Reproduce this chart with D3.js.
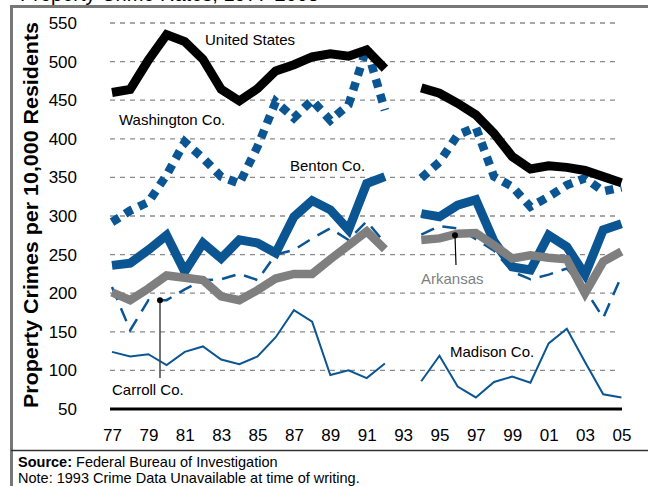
<!DOCTYPE html>
<html>
<head>
<meta charset="utf-8">
<script src="https://cdn.jsdelivr.net/npm/d3@7"></script>
<style>
  body { margin: 0; background: #fff; }
  svg { display: block; font-family: "Liberation Sans", Arial, Helvetica, sans-serif; }
</style>
</head>
<body>
<div id="chart"></div>
<script>
// years on the x axis, 1993 has no data
var years = [1977, 1978, 1979, 1980, 1981, 1982, 1983, 1984, 1985, 1986, 1987, 1988, 1989, 1990,
    1991, 1992, 1993, 1994, 1995, 1996, 1997, 1998, 1999, 2000, 2001, 2002, 2003, 2004, 2005];
var xTicks = [1977, 1979, 1981, 1983, 1985, 1987, 1989, 1991, 1993, 1995, 1997, 1999, 2001, 2003, 2005];
var yTicks = [50, 100, 150, 200, 250, 300, 350, 400, 450, 500, 550];

var unitedStates = [460, 464, 502, 535, 526, 503, 464, 449, 465, 488, 496, 506, 510, 507, 515, 491,
    null, 466, 459, 446, 431, 407, 377, 361, 365, 363, 359, 351, 343];
var washington = [292, 307, 318, 353, 396, 375, 351, 342, 390, 448, 427, 450, 424, 444, 518, 437,
    null, 349, 370, 405, 415, 351, 338, 312, 325, 340, 349, 332, 337];
var benton = [236, 239, 256, 275, 228, 265, 245, 269, 265, 252, 299, 320, 308, 282, 342, 351,
    null, 303, 299, 314, 321, 267, 234, 230, 275, 260, 224, 282, 290];
var arkansas = [201, 191, 206, 223, 220, 217, 196, 191, 204, 219, 225, 225, 244, 262, 280, 257,
    null, 269, 271, 277, 278, 262, 245, 249, 246, 244, 200, 241, 254];
var carroll = [208, 152, 191, 191, 205, 217, 218, 225, 217, 250, 256, 271, 284, 269, 293, 265,
    null, 276, 287, 284, 270, 255, 228, 218, 224, 232, 205, 168, 222];
var madison = [124, 118, 121, 107, 124, 131, 114, 108, 118, 143, 178, 163, 94, 100, 90, 109,
    null, 86, 119, 79, 65, 85, 92, 84, 135, 154, 111, 69, 65];

var width = 648, height = 486;
var blue = "#0a5592", gray = "#7f7f7f";

var svg = d3.select("#chart").append("svg")
    .attr("width", width)
    .attr("height", height);

var x = d3.scaleLinear().domain([1977, 2005]).range([112, 621.4]);
var y = d3.scaleLinear().domain([50, 550]).range([409, 23]);

// frame
svg.append("path")
    .attr("d", "M" + (width + 5) + ",6.5H11.5V" + (height + 5))
    .attr("fill", "none")
    .attr("stroke", "#777")
    .attr("stroke-width", 3);
svg.append("line")
    .attr("x1", 11).attr("x2", width)
    .attr("y1", 450.5).attr("y2", 450.5)
    .attr("stroke", "#333")
    .attr("stroke-width", 1.5);

// title, mostly cut off by the top edge
svg.append("text")
    .attr("x", 20).attr("y", 1)
    .attr("font-size", 20)
    .text("Property Crime Rates, 1977-2005");

// grid
svg.append("g")
    .selectAll("line")
    .data(yTicks.filter(function (d) { return d > 50; }))
    .enter().append("line")
    .attr("x1", 110).attr("x2", 615)
    .attr("y1", function (d) { return y(d); })
    .attr("y2", function (d) { return y(d); })
    .attr("stroke", "#8a8a8a")
    .attr("stroke-width", 1.3)
    .attr("stroke-dasharray", "5,5");

// axes
var yAxis = svg.append("g")
    .attr("transform", "translate(112,0)")
    .call(d3.axisLeft(y).tickValues(yTicks).tickSize(0).tickPadding(35));
yAxis.select(".domain").remove();
yAxis.selectAll("text").attr("font-size", 17).attr("fill", "#000").attr("font-family", null);

var xAxis = svg.append("g")
    .attr("transform", "translate(0,429)")
    .call(d3.axisBottom(x).tickValues(xTicks).tickSize(0).tickPadding(0)
        .tickFormat(function (d) { return String(d).slice(2); }));
xAxis.select(".domain").remove();
xAxis.selectAll("text").attr("font-size", 17).attr("fill", "#000").attr("font-family", null);

svg.append("text")
    .attr("transform", "translate(38,215)rotate(-90)")
    .attr("text-anchor", "middle")
    .attr("font-size", 20)
    .attr("font-weight", "bold")
    .attr("textLength", 386)
    .attr("lengthAdjust", "spacingAndGlyphs")
    .text("Property Crimes per 10,000 Residents");

// baseline
svg.append("line")
    .attr("x1", 110).attr("x2", 622)
    .attr("y1", y(50)).attr("y2", y(50))
    .attr("stroke", "#000")
    .attr("stroke-width", 3);

// series
var line = d3.line()
    .defined(function (d) { return d[1] != null; })
    .x(function (d) { return x(d[0]); })
    .y(function (d) { return y(d[1]); });

function drawSeries(values, color, widthPx, dash) {
    svg.append("path")
        .datum(years.map(function (yr, i) { return [yr, values[i]]; }))
        .attr("d", line)
        .attr("fill", "none")
        .attr("stroke", color)
        .attr("stroke-width", widthPx)
        .attr("stroke-dasharray", dash)
        .attr("stroke-linecap", "butt")
        .attr("stroke-linejoin", "miter");
}

drawSeries(madison, blue, 2, null);
drawSeries(carroll, blue, 2.5, "14,9");
drawSeries(benton, blue, 9, null);
drawSeries(arkansas, gray, 8.5, null);
drawSeries(washington, blue, 8.5, "8.5,7");
drawSeries(unitedStates, "#000", 9, null);

// labels
function label(txt, lx, ly, color) {
    svg.append("text")
        .attr("x", lx).attr("y", ly)
        .attr("font-size", 15)
        .attr("fill", color || "#000")
        .text(txt);
}
label("United States", 205, 45);
label("Washington Co.", 119, 125);
label("Benton Co.", 290, 171);
label("Carroll Co.", 112, 395);
label("Arkansas", 421, 284, gray);
label("Madison Co.", 450, 357);

// pointers
svg.append("line")
    .attr("x1", 160).attr("x2", 160)
    .attr("y1", y(191)).attr("y2", 378)
    .attr("stroke", "#444").attr("stroke-width", 1.5);
svg.append("circle")
    .attr("cx", 160).attr("cy", y(191)).attr("r", 3).attr("fill", "#000");
svg.append("line")
    .attr("x1", 455).attr("x2", 456)
    .attr("y1", y(275)).attr("y2", 265)
    .attr("stroke", "#000").attr("stroke-width", 1.2);
svg.append("circle")
    .attr("cx", 455).attr("cy", y(275)).attr("r", 3).attr("fill", "#000");

// notes
var src = svg.append("text").attr("x", 18).attr("y", 467).attr("font-size", 14.5);
src.append("tspan").attr("font-weight", "bold").text("Source:");
src.append("tspan").text(" Federal Bureau of Investigation");
svg.append("text").attr("x", 18).attr("y", 483).attr("font-size", 14.5)
    .text("Note: 1993 Crime Data Unavailable at time of writing.");
</script>
</body>
</html>
